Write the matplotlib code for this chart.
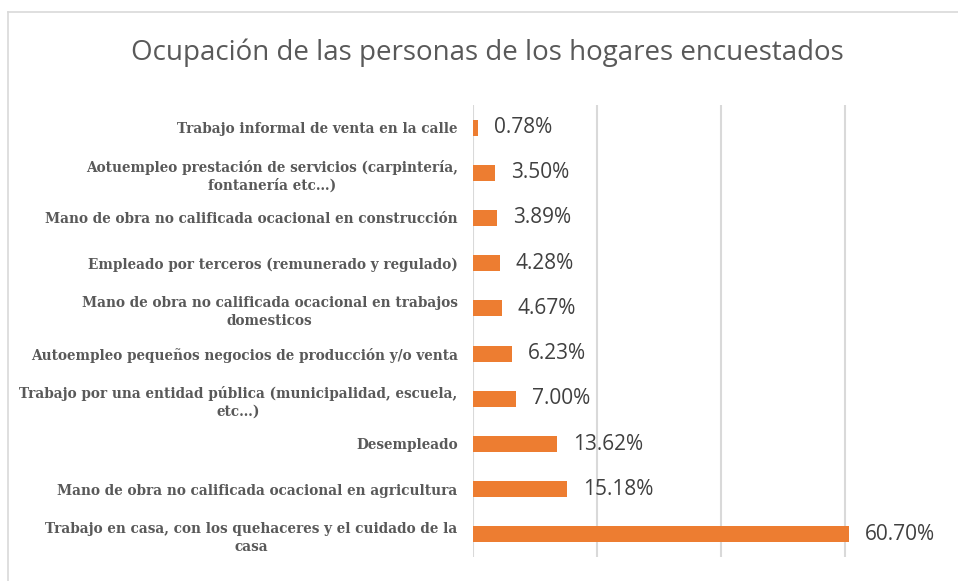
import matplotlib
matplotlib.use("Agg")
import matplotlib.pyplot as plt
from matplotlib.lines import Line2D

categories = [
    "Trabajo informal de venta en la calle",
    "Aotuempleo prestación de servicios (carpintería,\nfontanería etc…)",
    "Mano de obra no calificada ocacional en construcción",
    "Empleado por terceros (remunerado y regulado)",
    "Mano de obra no calificada ocacional en trabajos\ndomesticos",
    "Autoempleo pequeños negocios de producción y/o venta",
    "Trabajo por una entidad pública (municipalidad, escuela,\netc…)",
    "Desempleado",
    "Mano de obra no calificada ocacional en agricultura",
    "Trabajo en casa, con los quehaceres y el cuidado de la\ncasa",
]
values = [0.78, 3.50, 3.89, 4.28, 4.67, 6.23, 7.00, 13.62, 15.18, 60.70]
value_labels = ["0.78%", "3.50%", "3.89%", "4.28%", "4.67%", "6.23%", "7.00%", "13.62%", "15.18%", "60.70%"]

W, H = 958, 581
fig = plt.figure(figsize=(W/100, H/100), dpi=100)
ax = fig.add_axes([473/W, 1-557/H, (907-473)/W, (557-105)/H])

ypos = list(range(len(categories)))
ax.barh(ypos, values, height=0.35, color="#ED7D31", zorder=3)
ax.set_ylim(9.5, -0.5)
ax.set_xlim(0, 70)
ax.set_xticks([0, 20, 40, 60])
ax.xaxis.grid(True, color="#D9D9D9", linewidth=1.5, zorder=0)
ax.tick_params(axis="x", length=0, labelbottom=False)
ax.tick_params(axis="y", length=0, pad=11)
for s in ax.spines.values():
    s.set_visible(False)
ax.set_yticks(ypos)
ax.set_yticklabels(categories, fontfamily="DejaVu Serif", fontweight="bold",
                   fontsize=9.8, color="#595959", multialignment="center",
                   linespacing=1.35)

for y, v, t in zip(ypos, values, value_labels):
    ax.annotate(t, (v, y), xytext=(16, 0), textcoords="offset pixels",
                ha="left", va="center", fontsize=15, color="#404040", family="Open Sans")

fig.text(487/W, 1-53/H, "Ocupación de las personas de los hogares encuestados",
         ha="center", va="center", fontsize=20, color="#595959", family="Open Sans")

fig.add_artist(Line2D([8/W, 8/W], [0, 1-12/H], transform=fig.transFigure, color="#D9D9D9", lw=1.2))
fig.add_artist(Line2D([8/W, 1], [1-12/H, 1-12/H], transform=fig.transFigure, color="#D9D9D9", lw=1.2))

fig.savefig("out.png", dpi=100)
